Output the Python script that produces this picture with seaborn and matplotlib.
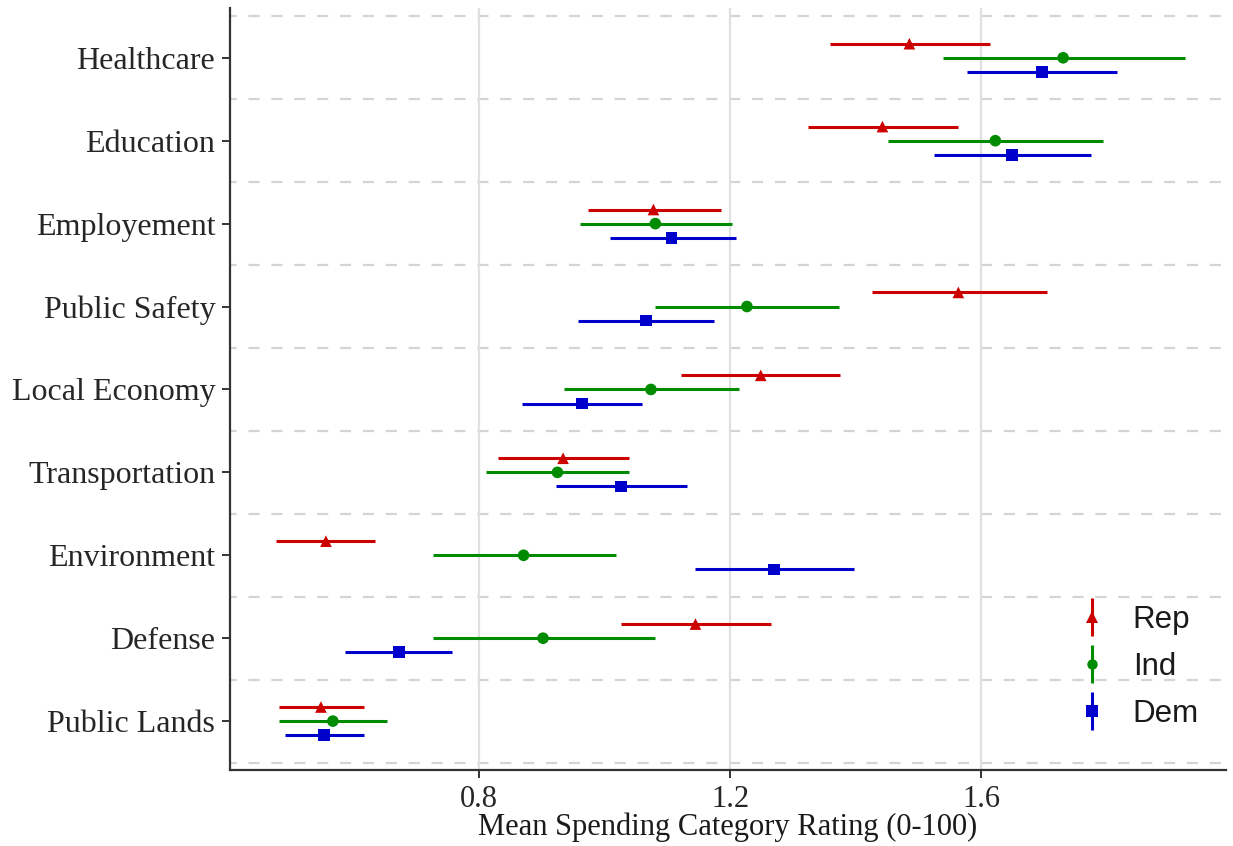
import numpy as np
import pandas as pd
import matplotlib
matplotlib.use("Agg")
import matplotlib.pyplot as plt
from matplotlib.lines import Line2D
from matplotlib.legend_handler import HandlerTuple
import seaborn as sns

# Spending categories, top to bottom
categories = ["Healthcare", "Education", "Employement", "Public Safety",
              "Local Economy", "Transportation", "Environment", "Defense",
              "Public Lands"]
parties = ["Rep", "Ind", "Dem"]

# Mean rating and interval bounds by party, one entry per category
rep_mean = [1.486, 1.443, 1.078, 1.564, 1.249, 0.934, 0.556, 1.145, 0.548]
rep_lo   = [1.359, 1.325, 0.973, 1.426, 1.122, 0.831, 0.477, 1.026, 0.481]
rep_hi   = [1.614, 1.563, 1.185, 1.705, 1.376, 1.039, 0.634, 1.265, 0.616]

ind_mean = [1.731, 1.623, 1.081, 1.227, 1.074, 0.925, 0.871, 0.902, 0.567]
ind_lo   = [1.540, 1.452, 0.961, 1.081, 0.935, 0.811, 0.726, 0.726, 0.481]
ind_hi   = [1.925, 1.794, 1.203, 1.374, 1.214, 1.039, 1.019, 1.080, 0.653]

dem_mean = [1.697, 1.650, 1.107, 1.066, 0.964, 1.026, 1.270, 0.672, 0.553]
dem_lo   = [1.578, 1.525, 1.009, 0.957, 0.868, 0.922, 1.144, 0.586, 0.490]
dem_hi   = [1.817, 1.775, 1.209, 1.175, 1.060, 1.132, 1.398, 0.757, 0.616]

x_ticks = [0.8, 1.2, 1.6]

colors = {"Rep": "#CD0000", "Ind": "#008B00", "Dem": "#0000CD"}
markers = {"Rep": "^", "Ind": "o", "Dem": "s"}
offsets = {"Rep": -0.17, "Ind": 0.0, "Dem": 0.17}

frames = []
for party, m, lo, hi in [("Rep", rep_mean, rep_lo, rep_hi),
                         ("Ind", ind_mean, ind_lo, ind_hi),
                         ("Dem", dem_mean, dem_lo, dem_hi)]:
    frames.append(pd.DataFrame({
        "category": categories,
        "party": party,
        "mean": m,
        "lo": lo,
        "hi": hi,
        "ypos": np.arange(len(categories)) + offsets[party],
    }))
df = pd.concat(frames, ignore_index=True)

sns.set_theme(style="white")
serif = ["Liberation Serif", "DejaVu Serif"]
sans = ["Liberation Sans", "DejaVu Sans"]

fig = plt.figure(figsize=(12.33, 8.46), dpi=100)
ax = fig.add_axes([0.1865, 0.0898, 0.8075, 0.9007])

# Category separators (dashed) and vertical grid at major ticks
for b in np.arange(-0.5, len(categories) + 0.5, 1.0):
    ax.axhline(b, color="#D4D4D4", lw=1.6, ls=(2, (5, 5.3)), zorder=0)
for xt in x_ticks:
    ax.axvline(xt, color="#E0E0E0", lw=1.6, zorder=0)

# Interval lines
for party in parties:
    sub = df[df["party"] == party]
    ax.hlines(sub["ypos"], sub["lo"], sub["hi"], colors=colors[party],
              lw=2.2, zorder=2)

# Point estimates
sns.scatterplot(data=df, x="mean", y="ypos", hue="party", style="party",
                palette=colors, markers=markers, hue_order=parties,
                s=70, linewidth=0, legend=False, ax=ax, zorder=3)

ax.set_xlim(0.403, 1.99)
ax.set_ylim(8.59, -0.6)
ax.set_yticks(np.arange(len(categories)))
ax.set_yticklabels(categories, family=serif, fontsize=23, color="#262626")
ax.set_xticks(x_ticks)
ax.set_xticklabels([f"{t:.1f}" for t in x_ticks], family=serif,
                   fontsize=22, color="#262626")
ax.set_xlabel("Mean Spending Category Rating (0-100)", family=serif,
              fontsize=22, color="#1A1A1A", labelpad=-1)
ax.set_ylabel("")

for side in ["top", "right"]:
    ax.spines[side].set_visible(False)
for side in ["left", "bottom"]:
    ax.spines[side].set_color("#333333")
    ax.spines[side].set_linewidth(1.6)
ax.tick_params(axis="both", which="major", direction="out", length=5.5,
               width=1.4, color="#333333", left=True, bottom=True)
ax.tick_params(axis="y", pad=5)
ax.tick_params(axis="x", pad=5)

# Legend keys: vertical interval with the party marker on top
handles = []
for party in parties:
    bar = Line2D([], [], color=colors[party], marker="|", markersize=27,
                 markeredgewidth=2.2, linestyle="None")
    pt = Line2D([], [], color=colors[party], marker=markers[party],
                markersize=8 if party != "Ind" else 7.5, linestyle="None",
                markeredgewidth=0)
    handles.append((bar, pt))
leg = ax.legend(handles, parties, handler_map={tuple: HandlerTuple(ndivide=1)},
                loc="center left", bbox_to_anchor=(0.822, 0.135),
                frameon=False, prop={"family": sans, "size": 22.5},
                labelspacing=0.55, handlelength=1.0, handletextpad=0.8)
for t in leg.get_texts():
    t.set_color("#1A1A1A")

fig.savefig("out.png", dpi=100, facecolor="white")
